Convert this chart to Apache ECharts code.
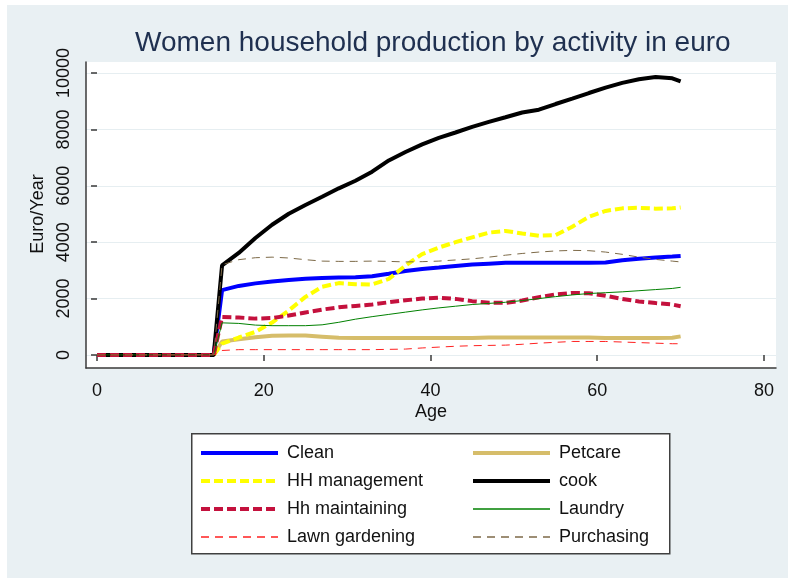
<!DOCTYPE html>
<html>
<head>
<meta charset="utf-8">
<script src="https://cdn.jsdelivr.net/npm/echarts@6/dist/echarts.min.js"></script>
<style>
  html, body { margin: 0; padding: 0; }
  #chart { width: 788px; height: 578px; }
</style>
</head>
<body>
<div id="chart"></div>
<script>
  // ages: zeros up to 14, then every 2 years
  const ages = [0, 2, 4, 6, 8, 10, 12, 14, 15, 17, 19, 21, 23, 25, 27, 29, 31, 33, 35, 37, 39, 41, 43, 45,
    47, 49, 51, 53, 55, 57, 59, 61, 63, 65, 67, 69, 70]
  const youngZero = [0, 0, 0, 0, 0, 0, 0, 0]

  const clean = [2300, 2450, 2540, 2610, 2660, 2700, 2730, 2750, 2760, 2790, 2880, 2980, 3050, 3100, 3160,
    3210, 3240, 3270, 3270, 3270, 3270, 3270, 3270, 3280, 3360, 3410, 3460, 3490, 3510]
  const petcare = [480, 560, 630, 680, 690, 690, 650, 610, 600, 600, 600, 600, 600, 600, 600,
    600, 620, 620, 620, 620, 620, 620, 620, 600, 600, 600, 600, 610, 660]
  const hhManagement = [400, 620, 820, 1150, 1580, 2060, 2420, 2550, 2510, 2500, 2700, 3170, 3580, 3810, 4000,
    4170, 4340, 4400, 4310, 4230, 4250, 4550, 4900, 5110, 5200, 5220, 5190, 5200, 5230]
  const cook = [3180, 3620, 4150, 4620, 5010, 5320, 5610, 5910, 6180, 6500, 6900, 7200, 7470, 7700, 7890,
    8090, 8265, 8430, 8600, 8700, 8900, 9090, 9290, 9480, 9650, 9780, 9860, 9810, 9700]
  const hhMaintaining = [1350, 1330, 1290, 1310, 1400, 1510, 1610, 1690, 1740, 1790, 1870, 1940, 2000, 2030, 1990,
    1910, 1850, 1850, 1930, 2050, 2150, 2200, 2190, 2100, 1990, 1900, 1840, 1790, 1730]
  const laundry = [1140, 1120, 1060, 1040, 1040, 1040, 1070, 1160, 1270, 1360, 1440, 1520, 1600, 1670, 1730,
    1790, 1830, 1870, 1930, 2000, 2070, 2130, 2180, 2210, 2240, 2280, 2320, 2360, 2400]
  const lawnGardening = [160, 190, 190, 190, 190, 190, 190, 190, 190, 190, 200, 210, 250, 280, 310,
    330, 340, 350, 380, 420, 450, 480, 480, 480, 460, 440, 420, 400, 400]
  const purchasing = [3200, 3380, 3450, 3470, 3440, 3380, 3330, 3320, 3320, 3330, 3320, 3300, 3310, 3330, 3370,
    3410, 3470, 3540, 3600, 3650, 3690, 3710, 3700, 3650, 3570, 3470, 3390, 3330, 3300]

  const xTicks = [0, 20, 40, 60, 80]

  function pairs (vals) {
    return youngZero.concat(vals).map((v, i) => [ages[i], v])
  }

  function line (name, vals, color, width, type) {
    return {
      name: name,
      type: 'line',
      xAxisIndex: 1,
      yAxisIndex: 1,
      symbol: 'none',
      data: pairs(vals),
      lineStyle: { color: color, width: width, type: type || 'solid' },
      itemStyle: { color: color },
      emphasis: { disabled: true }
    }
  }

  const chart = echarts.init(document.getElementById('chart'))
  const font = 'Liberation Sans, Arial, sans-serif'
  const legendBase = {
    orient: 'vertical',
    top: 443,
    padding: 0,
    itemWidth: 77,
    itemHeight: 14,
    itemGap: 8,
    selectedMode: false,
    itemStyle: { opacity: 0 },
    textStyle: { fontFamily: font, fontSize: 18, color: '#111', lineHeight: 20, padding: [0, 0, 0, 4] }
  }
  function legendItem (name, width) {
    return { name: name, lineStyle: { width: width } }
  }

  chart.setOption({
    animation: false,
    backgroundColor: '#e9f0f3',
    title: {
      text: 'Women household production by activity in euro',
      left: 130,
      top: 24,
      textStyle: { fontFamily: font, fontSize: 28, fontWeight: 'normal', color: '#1f3050' }
    },
    graphic: [
      { type: 'rect', left: 0, top: 0, shape: { width: 788, height: 5 }, style: { fill: '#fff' } },
      { type: 'rect', left: 0, top: 0, shape: { width: 7, height: 578 }, style: { fill: '#fff' } },
      {
        type: 'rect', left: 191, top: 433, z: 0,
        shape: { width: 478, height: 120 },
        style: { fill: '#fff', stroke: '#404040', lineWidth: 1.5 }
      }
    ],
    legend: [
      Object.assign({}, legendBase, {
        left: 199,
        data: [legendItem('Clean', 4), legendItem('HH management', 4), legendItem('Hh maintaining', 4), legendItem('Lawn gardening', 1.4)]
      }),
      Object.assign({}, legendBase, {
        left: 471,
        data: [legendItem('Petcare', 4), legendItem('cook', 4), legendItem('Laundry', 1.4), legendItem('Purchasing', 1.4)]
      })
    ],
    grid: [
      { left: 86, top: 62, width: 690, bottom: 210, show: true, backgroundColor: '#fff', borderWidth: 0 },
      { left: 86, top: 73, width: 690, bottom: 223 }
    ],
    xAxis: [
      {
        gridIndex: 0, type: 'value', min: 0, max: 1,
        axisLine: { show: true, lineStyle: { color: '#3a3a3a', width: 1.5 } },
        axisTick: { show: false }, axisLabel: { show: false }, splitLine: { show: false }
      },
      {
        gridIndex: 1, type: 'value', min: -1.32, max: 81.44,
        offset: 13,
        name: 'Age',
        nameLocation: 'middle',
        nameGap: 35,
        nameTextStyle: { fontFamily: font, fontSize: 18, color: '#111' },
        axisLine: { show: false },
        axisTick: { show: true, length: 6, customValues: xTicks, lineStyle: { color: '#3a3a3a', width: 1.5 } },
        axisLabel: { customValues: xTicks, margin: 14, fontFamily: font, fontSize: 18, color: '#111' },
        splitLine: { show: false }
      }
    ],
    yAxis: [
      {
        gridIndex: 0, type: 'value', min: 0, max: 1,
        axisLine: { show: true, lineStyle: { color: '#3a3a3a', width: 1.5 } },
        axisTick: { show: false }, axisLabel: { show: false }, splitLine: { show: false }
      },
      {
        gridIndex: 1, type: 'value', min: 0, max: 10000, interval: 2000,
        name: 'Euro/Year',
        nameLocation: 'middle',
        nameGap: 38,
        nameTextStyle: { fontFamily: font, fontSize: 18, color: '#111' },
        axisLine: { show: false },
        axisTick: { show: true, length: 6, lineStyle: { color: '#3a3a3a', width: 1.5 } },
        axisLabel: { rotate: 90, margin: 13, fontFamily: font, fontSize: 18, color: '#111', formatter: v => String(v) },
        splitLine: { show: true, lineStyle: { color: '#e6eef1', width: 1 } }
      }
    ],
    series: [
      line('Clean', clean, '#0000ff', 4),
      line('Petcare', petcare, '#d6bd6a', 4),
      line('HH management', hhManagement, '#ffff00', 4, [9, 4]),
      line('cook', cook, '#000000', 4),
      line('Hh maintaining', hhMaintaining, '#c4113d', 4, [9, 4]),
      line('Laundry', laundry, '#008000', 1),
      line('Lawn gardening', lawnGardening, '#ff2020', 1, [8, 6]),
      line('Purchasing', purchasing, '#7d6a48', 1, [8, 6])
    ]
  })
</script>
</body>
</html>
